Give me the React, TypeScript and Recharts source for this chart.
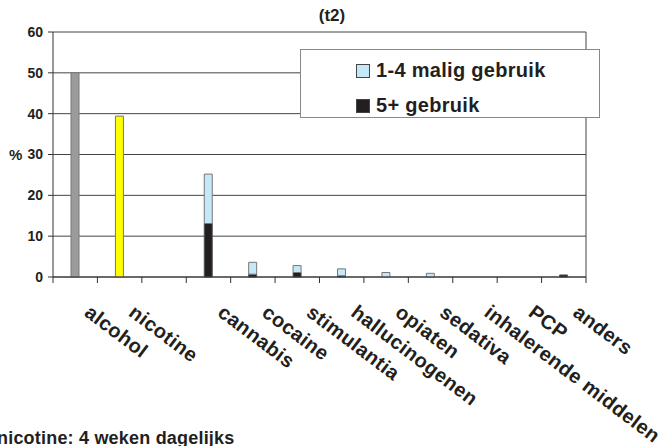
import React from "react";
import {
  BarChart,
  Bar,
  Cell,
  XAxis,
  YAxis,
  CartesianGrid,
  Legend,
} from "recharts";

const categories = [
  "alcohol",
  "nicotine",
  "",
  "cannabis",
  "cocaine",
  "stimulantia",
  "hallucinogenen",
  "opiaten",
  "sedativa",
  "inhalerende middelen",
  "PCP",
  "anders",
];

// alcohol / nicotine are plotted as a single bar each
const singleValues = [50, 39.4, null, null, null, null, null, null, null, null, null, null];
const heavyValues = [null, null, null, 13.1, 0.7, 1.1, 0.3, null, null, null, null, 0.5];
const lightValues = [null, null, null, 12.1, 2.9, 1.7, 1.7, 1.1, 0.9, null, null, null];
const singleColors = ["#9B9B9D", "#FFFF00"];

const yTicks = [0, 10, 20, 30, 40, 50, 60];

const legendItems = [
  { label: "1-4 malig gebruik", color: "#C5E8F8" },
  { label: "5+ gebruik", color: "#231F20" },
];

const data = categories.map((name, i) => ({
  name,
  single: singleValues[i],
  heavy: heavyValues[i],
  light: lightValues[i],
}));

const W = 664;
const H = 446;
const margin = { top: 32, right: 78, bottom: 168, left: 0 };
const yAxisWidth = 53;
const plotWidth = W - margin.left - margin.right - yAxisWidth;
const band = plotWidth / categories.length;

const font = "'Liberation Sans', Arial, Helvetica, sans-serif";

function CategoryTick(props: any) {
  const { x, y, payload, index } = props;
  const last = index === categories.length - 1;
  const tx = x + 8;
  const ty = y + 38;
  return (
    <g>
      <line x1={x - band / 2} x2={x - band / 2} y1={y} y2={y + 6} stroke="#333" />
      {last && <line x1={x + band / 2} x2={x + band / 2} y1={y} y2={y + 6} stroke="#333" />}
      <text
        x={tx}
        y={ty}
        transform={`rotate(37 ${tx} ${ty})`}
        textAnchor="start"
        fontFamily={font}
        fontWeight="bold"
        fontSize={20}
        letterSpacing={0.4}
        fill="#231F20"
      >
        {payload.value}
      </text>
    </g>
  );
}

function LegendBox() {
  return (
    <div
      style={{
        boxSizing: "border-box",
        width: 300,
        height: 69,
        border: "1px solid #888",
        background: "#fff",
        paddingTop: 3,
        paddingLeft: 55,
        fontFamily: font,
        fontWeight: "bold",
        fontSize: 20,
        letterSpacing: 0.3,
        color: "#231F20",
      }}
    >
      {legendItems.map((item) => (
        <div key={item.label} style={{ height: 35, display: "flex", alignItems: "center" }}>
          <span
            style={{
              display: "inline-block",
              boxSizing: "border-box",
              width: 14,
              height: 14,
              background: item.color,
              border: "1px solid #444",
              marginRight: 6,
            }}
          />
          {item.label}
        </div>
      ))}
    </div>
  );
}

export default function App() {
  return (
    <div style={{ position: "absolute", left: 0, top: 0, width: W, height: H, background: "#fff" }}>
      <BarChart width={W} height={H} data={data} margin={margin}>
        <CartesianGrid
          stroke="#444"
          horizontal={true}
          vertical={true}
          verticalCoordinatesGenerator={({ offset }: any) => [offset.left + offset.width]}
        />
        <XAxis
          dataKey="name"
          interval={0}
          height={1}
          tickSize={0}
          tickMargin={0}
          tickLine={false}
          axisLine={{ stroke: "#333" }}
          tick={<CategoryTick />}
        />
        <YAxis
          width={yAxisWidth}
          domain={[0, 60]}
          ticks={yTicks}
          interval={0}
          tickSize={5}
          tickMargin={5}
          axisLine={{ stroke: "#333" }}
          tickLine={{ stroke: "#333" }}
          tick={{ fontFamily: font, fontWeight: "bold", fontSize: 14, fill: "#231F20" }}
          label={{
            value: "%",
            position: "insideLeft",
            offset: 9,
            style: { fontFamily: font, fontWeight: "bold", fontSize: 15, fill: "#231F20" },
          }}
        />
        <Legend
          layout="vertical"
          align="center"
          verticalAlign="middle"
          content={<LegendBox />}
          wrapperStyle={{ left: 300, top: 49, width: 300, height: 69 }}
        />
        <Bar dataKey="single" stackId="s" barSize={8} stroke="#777" isAnimationActive={false} legendType="none">
          {data.map((_, i) => (
            <Cell key={`c-${i}`} fill={singleColors[i % singleColors.length]} />
          ))}
        </Bar>
        <Bar dataKey="heavy" stackId="s" barSize={8} fill="#231F20" stroke="#555" isAnimationActive={false} />
        <Bar dataKey="light" stackId="s" barSize={8} fill="#C5E8F8" stroke="#777" isAnimationActive={false} />
      </BarChart>
      <div
        style={{
          position: "absolute",
          left: 0,
          width: W,
          top: 7,
          textAlign: "center",
          fontFamily: font,
          fontWeight: "bold",
          fontSize: 17,
          lineHeight: "18px",
          color: "#231F20",
        }}
      >
        (t2)
      </div>
      <div
        style={{
          position: "absolute",
          left: -3,
          top: 429,
          whiteSpace: "nowrap",
          fontFamily: font,
          fontWeight: "bold",
          fontSize: 18,
          letterSpacing: 0.2,
          lineHeight: "18px",
          color: "#231F20",
        }}
      >
        nicotine: 4 weken dagelijks
      </div>
    </div>
  );
}
